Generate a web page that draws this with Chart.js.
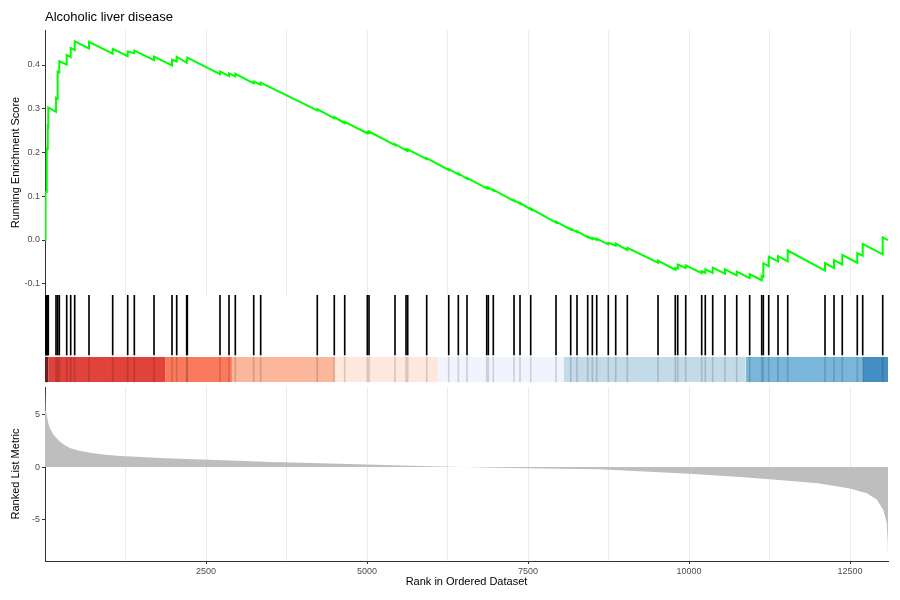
<!DOCTYPE html>
<html>
<head>
<meta charset="utf-8">
<title>Alcoholic liver disease</title>
<script src="https://cdn.jsdelivr.net/npm/chart.js@4.4.1/dist/chart.umd.min.js"></script>
<style>
  html, body { margin: 0; padding: 0; background: #fff; }
</style>
</head>
<body>
<canvas id="gsea" width="900" height="600"></canvas>
<script>
const plotTitle = 'Alcoholic liver disease';
const totalGenes = 13090;

// gene set hits: rank, running ES just before and just after the hit
const hitRanks = [5, 12, 20, 31, 43, 51, 171, 197, 222, 337, 399, 461, 683, 1051, 1284, 1387, 1693, 1972, 2045, 2200,
  2210, 2717, 2857, 2955, 3241, 3349, 4228, 4492, 4654, 5005, 5031, 5435, 5606, 5632, 5927, 6269, 6418, 6553, 6859, 6884,
  6961, 7283, 7376, 7542, 7935, 8163, 8261, 8427, 8499, 8567, 8747, 8862, 9042, 9519, 9787, 9825, 9949, 10197, 10253, 10368,
  10559, 10741, 10942, 11129, 11154, 11238, 11382, 11533, 12112, 12252, 12380, 12613, 12697, 13008];
const esBefore = [0.000, 0.055, 0.110, 0.159, 0.209, 0.259, 0.293, 0.323, 0.383, 0.401, 0.418, 0.434, 0.438, 0.426, 0.420, 0.427, 0.411, 0.399, 0.408, 0.405,
  0.411, 0.379, 0.375, 0.374, 0.358, 0.355, 0.296, 0.278, 0.267, 0.244, 0.245, 0.217, 0.205, 0.205, 0.185, 0.160, 0.150, 0.140, 0.118, 0.118,
  0.113, 0.089, 0.083, 0.070, 0.040, 0.024, 0.018, 0.006, 0.002, 0.000, -0.010, -0.013, -0.023, -0.052, -0.068, -0.066, -0.064, -0.076, -0.075, -0.075,
  -0.077, -0.081, -0.087, -0.092, -0.084, -0.060, -0.049, -0.049, -0.070, -0.064, -0.056, -0.052, -0.036, -0.033];
const esAfter = [0.055, 0.110, 0.160, 0.210, 0.260, 0.303, 0.325, 0.385, 0.409, 0.423, 0.439, 0.454, 0.453, 0.437, 0.431, 0.433, 0.419, 0.412, 0.419, 0.411,
  0.417, 0.385, 0.381, 0.380, 0.362, 0.360, 0.299, 0.281, 0.270, 0.247, 0.248, 0.219, 0.207, 0.207, 0.187, 0.162, 0.152, 0.142, 0.120, 0.120,
  0.115, 0.091, 0.085, 0.072, 0.042, 0.026, 0.020, 0.008, 0.005, 0.003, -0.006, -0.008, -0.018, -0.047, -0.064, -0.056, -0.058, -0.071, -0.067, -0.063,
  -0.067, -0.072, -0.078, -0.082, -0.053, -0.038, -0.037, -0.024, -0.053, -0.046, -0.034, -0.030, -0.009, 0.006];
const esEnd = 0;

// ranked list metric
const metricRanks = [0, 3, 15, 26, 50, 78, 120, 155, 233, 300, 388, 500, 699, 900, 1165, 1500, 1786, 2300, 3000, 3500,
  4000, 5000, 6000, 6500, 7000, 7500, 8600, 10000, 10800, 11250, 12000, 12500, 12760, 12915, 13017, 13070, 13085, 13090];
const metricValues = [7.6, 6.6, 5.4, 5.0, 4.2, 3.7, 3.2, 2.9, 2.4, 2.1, 1.8, 1.6, 1.35, 1.2, 1.05, 0.95, 0.85, 0.75, 0.6, 0.48,
  0.4, 0.25, 0.08, 0.0, -0.06, -0.12, -0.22, -0.65, -0.95, -1.17, -1.55, -2.05, -2.5, -3.1, -4.1, -5.3, -7.0, -8.3];

// colour strip under the hit ticks
const bandEdges = [0, 51, 1865, 2902, 4500, 6107, 8050, 10880, 12690, 13090];
const bandColors = ['#a50f15', '#de2d26', '#fb6a4a', '#fcae91', '#fee5d9', '#eff3ff', '#bdd7e7', '#6baed6', '#3182bd'];

const rankTicks = [1250, 2500, 3750, 5000, 6250, 7500, 8750, 10000, 11250, 12500];
const esTicks = [-0.1, 0, 0.1, 0.2, 0.3, 0.4];
const metricTicks = [-5, 0, 5];

// middle panel layout (fractions of the panel)
const tickSpan = [0.348, 1];
const bandSpan = [0.054, 0.326];

Chart.defaults.font.family = '"Liberation Sans", Arial, sans-serif';

const esPoints = [{ x: 0, y: 0 }];
hitRanks.forEach((r, i) => {
  esPoints.push({ x: r, y: esBefore[i] }, { x: r, y: esAfter[i] });
});
esPoints.push({ x: totalGenes, y: esEnd });

const metricPoints = metricRanks.map((r, i) => ({ x: r, y: metricValues[i] }));

const clear = 'rgba(0,0,0,0)';
const bandSets = bandColors.map((c, i) => ({
  type: 'line',
  yAxisID: 'yMid',
  data: [{ x: bandEdges[i], y: bandSpan[1] }, { x: bandEdges[i + 1], y: bandSpan[1] }],
  fill: { value: bandSpan[0] },
  backgroundColor: c + 'e6',
  borderColor: clear,
  pointRadius: 0,
  order: 8,
}));

const titlePlugin = {
  id: 'plotTitle',
  afterDraw(chart) {
    const { ctx, chartArea } = chart;
    ctx.save();
    ctx.font = '13px "Liberation Sans", Arial, sans-serif';
    ctx.fillStyle = '#000';
    ctx.fillText(plotTitle, chartArea.left, 21);
    ctx.restore();
  }
};

const axisTick = { size: 9 };
const tickGrey = '#4d4d4d';
const lineDark = '#333333';

new Chart(document.getElementById('gsea'), {
  type: 'line',
  data: {
    datasets: [
      {
        // white panel behind the hit ticks
        type: 'line',
        yAxisID: 'yMid',
        data: [{ x: 0, y: 1 }, { x: totalGenes, y: 1 }],
        fill: { value: 0 },
        backgroundColor: '#ffffff',
        borderColor: clear,
        pointRadius: 0,
        order: 10,
      },
      ...bandSets,
      {
        type: 'bar',
        yAxisID: 'yMid',
        data: hitRanks.map(r => ({ x: r, y: bandSpan })),
        backgroundColor: 'rgba(0,0,0,0.15)',
        barThickness: 1,
        grouped: false,
        order: 5,
      },
      {
        type: 'bar',
        yAxisID: 'yMid',
        data: hitRanks.map(r => ({ x: r, y: tickSpan })),
        backgroundColor: '#000000',
        barThickness: 1,
        grouped: false,
        order: 4,
      },
      {
        type: 'line',
        yAxisID: 'yMetric',
        data: metricPoints,
        fill: 'origin',
        backgroundColor: '#bebebe',
        borderColor: clear,
        pointRadius: 0,
        order: 3,
      },
      {
        type: 'line',
        yAxisID: 'yES',
        data: esPoints,
        borderColor: '#00ff00',
        borderWidth: 2,
        pointRadius: 0,
        tension: 0,
        fill: false,
        order: 1,
      },
    ],
  },
  options: {
    responsive: false,
    animation: false,
    layout: { padding: { top: 30, right: 12, left: 0, bottom: 0 } },
    plugins: { legend: { display: false }, tooltip: { enabled: false } },
    scales: {
      x: {
        type: 'linear',
        min: 0,
        max: totalGenes,
        offset: false,
        afterBuildTicks: s => { s.ticks = rankTicks.map(v => ({ value: v })); },
        afterFit: s => { s.height = 39; },
        ticks: {
          autoSkip: false,
          maxRotation: 0,
          font: axisTick,
          color: tickGrey,
          padding: 2,
          callback: v => (v % 2500 === 0 ? String(v) : ''),
        },
        grid: {
          offset: false,
          color: '#ebebeb',
          lineWidth: 1,
          tickLength: 3,
          tickColor: ctx => (ctx.tick && ctx.tick.value % 2500 === 0 ? lineDark : clear),
        },
        border: { display: true, color: lineDark, width: 1 },
        title: {
          display: true,
          text: 'Rank in Ordered Dataset',
          font: { size: 11 },
          color: '#000',
          padding: { top: 0, bottom: 11 },
        },
      },
      yMetric: {
        type: 'linear',
        position: 'left',
        stack: 'gsea',
        stackWeight: 174,
        min: -8.95,
        max: 7.62,
        afterBuildTicks: s => { s.ticks = metricTicks.map(v => ({ value: v })); },
        afterFit: s => { s.width = 45; },
        ticks: { font: axisTick, color: tickGrey, padding: 2, callback: v => String(v) },
        grid: { drawOnChartArea: false, tickLength: 3, tickColor: lineDark },
        border: { display: true, color: lineDark, width: 1 },
        title: {
          display: true,
          text: 'Ranked List Metric',
          font: { size: 11 },
          color: '#000',
          padding: { top: 9, bottom: 0 },
        },
      },
      yMid: {
        type: 'linear',
        position: 'left',
        stack: 'gsea',
        stackWeight: 92,
        min: 0,
        max: 1,
        afterFit: s => { s.width = 45; },
        ticks: { display: false },
        grid: { display: false },
        border: { display: false },
      },
      yES: {
        type: 'linear',
        position: 'left',
        stack: 'gsea',
        stackWeight: 265,
        min: -0.1257,
        max: 0.48,
        afterBuildTicks: s => { s.ticks = esTicks.map(v => ({ value: v })); },
        afterFit: s => { s.width = 45; },
        ticks: { font: axisTick, color: tickGrey, padding: 2, callback: v => v.toFixed(1) },
        grid: { drawOnChartArea: false, tickLength: 3, tickColor: lineDark },
        border: { display: true, color: lineDark, width: 1 },
        title: {
          display: true,
          text: 'Running Enrichment Score',
          font: { size: 11 },
          color: '#000',
          padding: { top: 9, bottom: 0 },
        },
      },
    },
  },
  plugins: [titlePlugin],
});
</script>
</body>
</html>
